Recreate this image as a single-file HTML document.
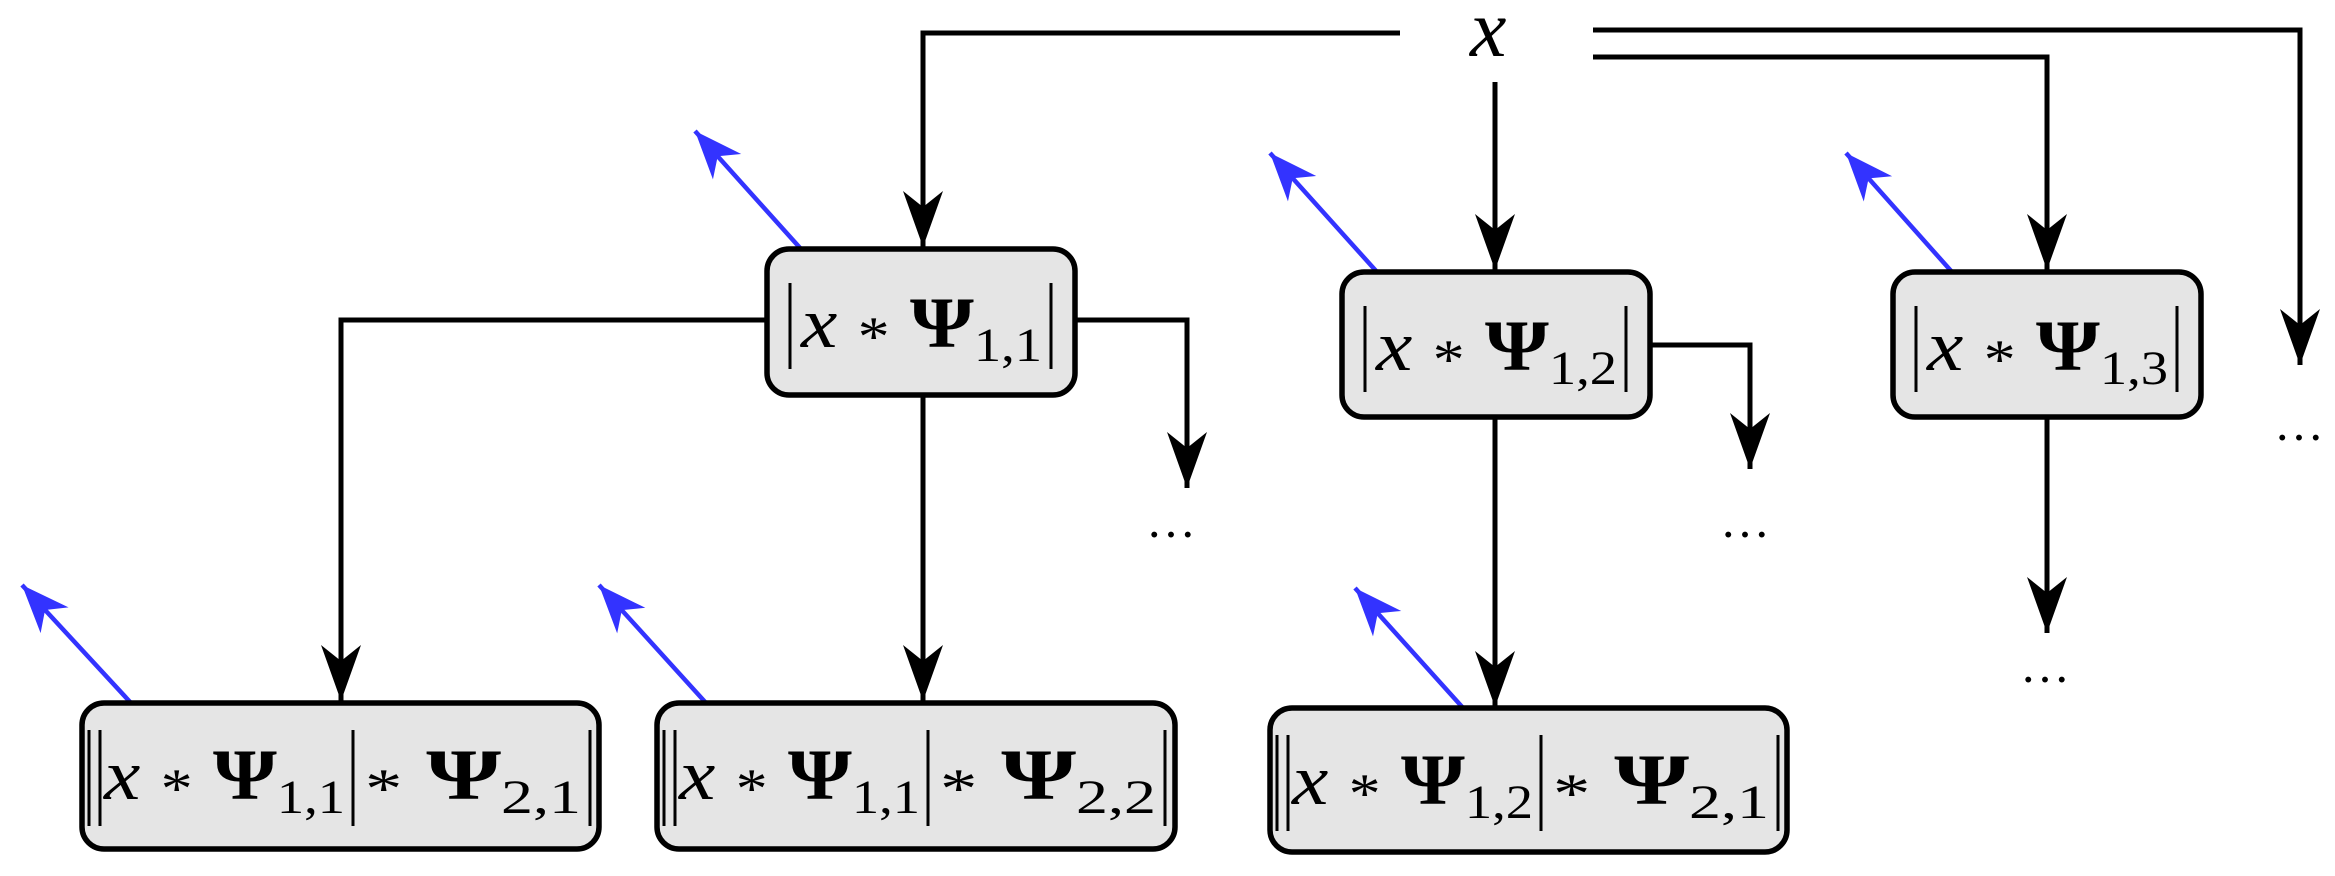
<!DOCTYPE html>
<html><head><meta charset="utf-8"><style>
html,body{margin:0;padding:0;background:#fff;}
svg{display:block;}
text{font-family:"Liberation Serif",serif;fill:#000;}
</style></head><body>
<svg width="2335" height="876" viewBox="0 0 2335 876" xmlns="http://www.w3.org/2000/svg">
<defs>
<marker id="ab" markerUnits="userSpaceOnUse" markerWidth="64" markerHeight="50" viewBox="-60 -25 64 50" refX="0" refY="0" orient="auto" overflow="visible">
<path d="M0,0 L-56,-20 L-40,0 L-56,20 Z" fill="#000"/>
</marker>
<marker id="bl" markerUnits="userSpaceOnUse" markerWidth="56" markerHeight="44" viewBox="-52 -22 56 44" refX="0" refY="0" orient="auto" overflow="visible">
<path d="M0,0 L-48,-19 L-34,0 L-48,19 Z" fill="#3333ff"/>
</marker>
</defs>

<g fill="none" stroke="#000" stroke-width="5">
<polyline points="1400,33 923,33 923,247" marker-end="url(#ab)"/>
<line x1="1495" y1="82" x2="1495" y2="270" marker-end="url(#ab)"/>
<polyline points="1593,30 2300,30 2300,365" marker-end="url(#ab)"/>
<polyline points="1593,57 2047,57 2047,270" marker-end="url(#ab)"/>
<polyline points="767,320 341,320 341,701" marker-end="url(#ab)"/>
<line x1="923" y1="395" x2="923" y2="701" marker-end="url(#ab)"/>
<polyline points="1075,320 1187,320 1187,488" marker-end="url(#ab)"/>
<polyline points="1650,345 1750,345 1750,469" marker-end="url(#ab)"/>
<line x1="1495" y1="417" x2="1495" y2="707" marker-end="url(#ab)"/>
<line x1="2047" y1="417" x2="2047" y2="633" marker-end="url(#ab)"/>
</g>

<g fill="none" stroke="#3333ff" stroke-width="4.5">
<line x1="801" y1="249" x2="695" y2="131" marker-end="url(#bl)"/>
<line x1="1377" y1="272" x2="1270" y2="153" marker-end="url(#bl)"/>
<line x1="1952" y1="272" x2="1846" y2="153" marker-end="url(#bl)"/>
<line x1="131" y1="703" x2="22" y2="585" marker-end="url(#bl)"/>
<line x1="706" y1="703" x2="599" y2="585" marker-end="url(#bl)"/>
<line x1="1464" y1="709" x2="1355" y2="588" marker-end="url(#bl)"/>
</g>

<g fill="#e5e5e5" stroke="#000" stroke-width="5.5">
<rect x="767" y="249" width="308" height="146" rx="22"/>
<rect x="1342" y="272" width="308" height="145" rx="22"/>
<rect x="1893" y="272" width="308" height="145" rx="22"/>
<rect x="82" y="703" width="517" height="146" rx="22"/>
<rect x="657" y="703" width="518" height="146" rx="22"/>
<rect x="1270" y="708" width="517" height="144" rx="22"/>
</g>

<text x="1470" y="56" font-size="82" font-style="italic">x</text>

<g font-size="50">
<text x="1146" y="537">…</text>
<text x="1720" y="537">…</text>
<text x="2020" y="682">…</text>
<text x="2274" y="440">…</text>
</g>

<g stroke="#000" stroke-width="3">
<line x1="790" y1="283" x2="790" y2="369"/><line x1="1051" y1="283" x2="1051" y2="369"/>
<line x1="1365" y1="306" x2="1365" y2="392"/><line x1="1626" y1="306" x2="1626" y2="392"/>
<line x1="1916" y1="306" x2="1916" y2="392"/><line x1="2177" y1="306" x2="2177" y2="392"/>
<line x1="89" y1="730" x2="89" y2="826"/><line x1="100" y1="730" x2="100" y2="826"/>
<line x1="353" y1="730" x2="353" y2="826"/><line x1="590" y1="730" x2="590" y2="826"/>
<line x1="664" y1="730" x2="664" y2="826"/><line x1="675" y1="730" x2="675" y2="826"/>
<line x1="928" y1="730" x2="928" y2="826"/><line x1="1165" y1="730" x2="1165" y2="826"/>
<line x1="1277" y1="735" x2="1277" y2="831"/><line x1="1288" y1="735" x2="1288" y2="831"/>
<line x1="1541" y1="735" x2="1541" y2="831"/><line x1="1778" y1="735" x2="1778" y2="831"/>
</g>

<g font-size="72">
<text x="801" y="347" textLength="241" lengthAdjust="spacingAndGlyphs"><tspan font-style="italic">x</tspan> <tspan font-size="56" dy="8">*</tspan> <tspan dy="-8" font-weight="bold">Ψ</tspan><tspan font-size="48" dy="14">1,1</tspan></text>
<text x="1376" y="370" textLength="241" lengthAdjust="spacingAndGlyphs"><tspan font-style="italic">x</tspan> <tspan font-size="56" dy="8">*</tspan> <tspan dy="-8" font-weight="bold">Ψ</tspan><tspan font-size="48" dy="14">1,2</tspan></text>
<text x="1927" y="370" textLength="241" lengthAdjust="spacingAndGlyphs"><tspan font-style="italic">x</tspan> <tspan font-size="56" dy="8">*</tspan> <tspan dy="-8" font-weight="bold">Ψ</tspan><tspan font-size="48" dy="14">1,3</tspan></text>

<text x="104" y="799" textLength="241" lengthAdjust="spacingAndGlyphs"><tspan font-style="italic">x</tspan> <tspan font-size="56" dy="8">*</tspan> <tspan dy="-8" font-weight="bold">Ψ</tspan><tspan font-size="48" dy="14">1,1</tspan></text>
<text x="365" y="799" textLength="216" lengthAdjust="spacingAndGlyphs"><tspan font-size="56" dy="8">*</tspan> <tspan dy="-8" font-weight="bold">Ψ</tspan><tspan font-size="48" dy="14">2,1</tspan></text>

<text x="679" y="799" textLength="241" lengthAdjust="spacingAndGlyphs"><tspan font-style="italic">x</tspan> <tspan font-size="56" dy="8">*</tspan> <tspan dy="-8" font-weight="bold">Ψ</tspan><tspan font-size="48" dy="14">1,1</tspan></text>
<text x="940" y="799" textLength="216" lengthAdjust="spacingAndGlyphs"><tspan font-size="56" dy="8">*</tspan> <tspan dy="-8" font-weight="bold">Ψ</tspan><tspan font-size="48" dy="14">2,2</tspan></text>

<text x="1292" y="804" textLength="241" lengthAdjust="spacingAndGlyphs"><tspan font-style="italic">x</tspan> <tspan font-size="56" dy="8">*</tspan> <tspan dy="-8" font-weight="bold">Ψ</tspan><tspan font-size="48" dy="14">1,2</tspan></text>
<text x="1553" y="804" textLength="216" lengthAdjust="spacingAndGlyphs"><tspan font-size="56" dy="8">*</tspan> <tspan dy="-8" font-weight="bold">Ψ</tspan><tspan font-size="48" dy="14">2,1</tspan></text>
</g>
</svg>
</body></html>
